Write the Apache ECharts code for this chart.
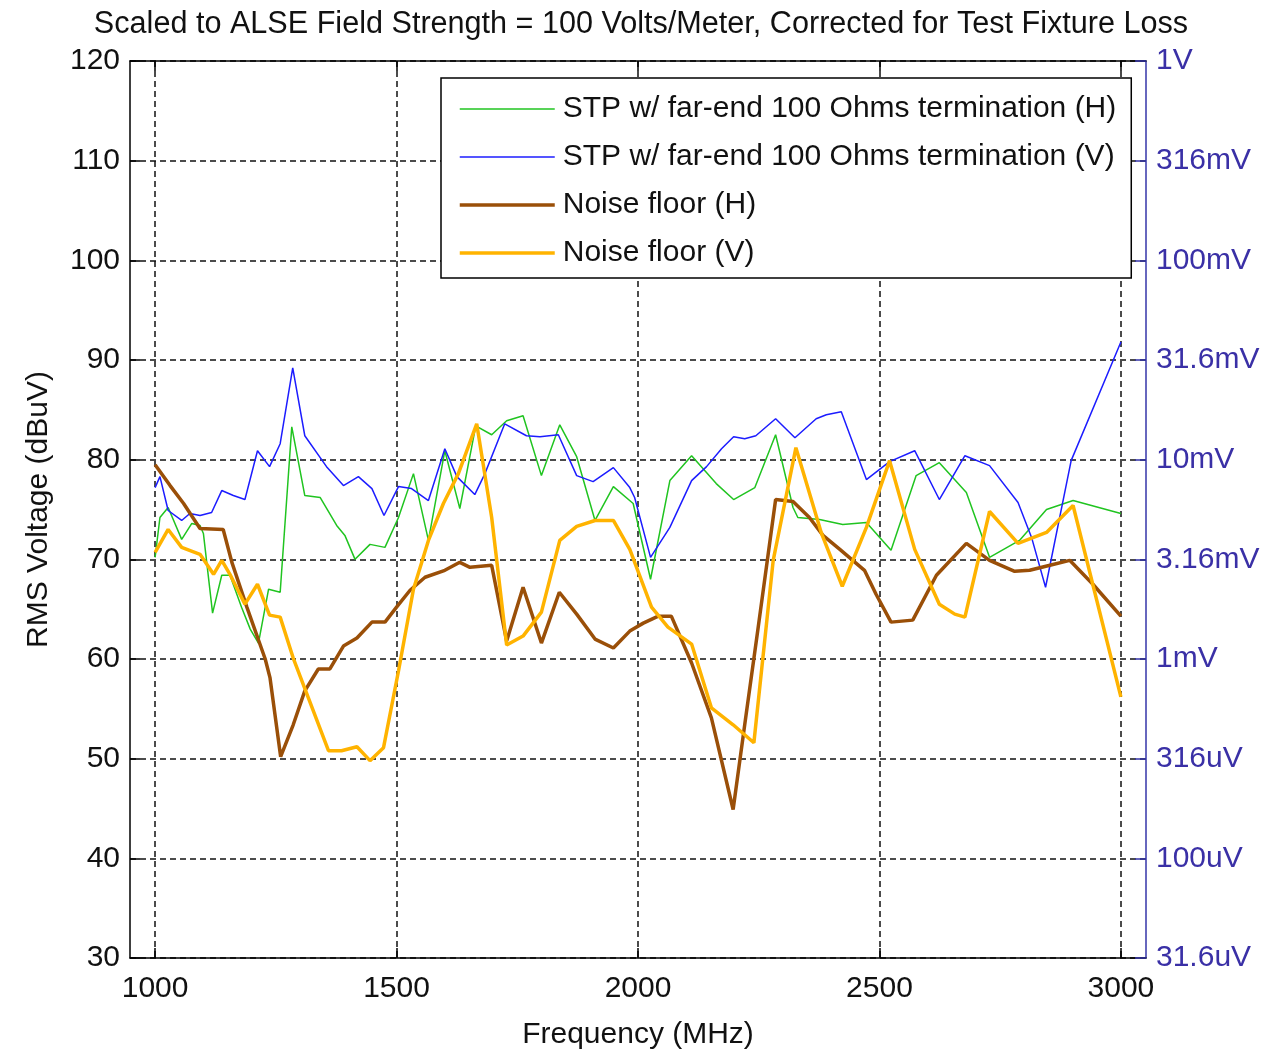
<!DOCTYPE html>
<html>
<head>
<meta charset="utf-8">
<title>Scaled to ALSE Field Strength</title>
<script src="https://cdn.jsdelivr.net/npm/echarts@6/dist/echarts.min.js"></script>
<style>
  html, body { margin: 0; padding: 0; background: #fff; }
  #chart { width: 1281px; height: 1055px; }
</style>
</head>
<body>
<div id="chart"></div>
<script>
// frequency ticks and right-hand voltage labels
const freqTicks = [1000, 1500, 2000, 2500, 3000];
const voltLabels = ['31.6uV', '100uV', '316uV', '1mV', '3.16mV', '10mV', '31.6mV', '100mV', '316mV', '1V'];

// [MHz, dBuV]
const stpH = [
  [1000,70.2],[1010,74.2],[1027,75.2],[1055,72.0],[1076,73.6],[1093,73.4],[1100,72.6],[1119,64.6],
  [1138,68.4],[1155,68.4],[1179,65.2],[1197,63.0],[1214,61.6],[1235,67.0],[1259,66.7],[1283,83.3],
  [1310,76.4],[1342,76.2],[1376,73.4],[1393,72.4],[1414,70.0],[1445,71.5],[1476,71.2],[1504,74.2],
  [1535,78.6],[1566,71.9],[1600,80.9],[1631,75.1],[1664,83.4],[1697,82.5],[1728,83.9],[1762,84.4],
  [1800,78.4],[1838,83.5],[1873,80.3],[1911,73.9],[1949,77.3],[1990,75.6],[2026,68.0],[2066,77.9],
  [2111,80.4],[2162,77.6],[2198,76.0],[2242,77.2],[2285,82.5],[2321,75.2],[2331,74.2],[2376,74.0],
  [2424,73.5],[2473,73.7],[2524,70.9],[2576,78.4],[2624,79.7],[2680,76.7],[2728,70.2],[2790,71.9],
  [2846,75.0],[2901,75.9],[3000,74.6]
];
const stpV = [
  [1000,77.2],[1010,78.3],[1027,74.9],[1055,73.9],[1072,74.6],[1093,74.4],[1117,74.7],[1138,76.9],
  [1162,76.4],[1186,76.0],[1212,80.9],[1237,79.3],[1259,81.6],[1285,89.2],[1310,82.4],[1355,79.3],
  [1390,77.4],[1421,78.3],[1449,77.1],[1474,74.4],[1504,77.3],[1531,77.1],[1566,75.9],[1600,81.1],
  [1625,78.3],[1662,76.5],[1683,78.6],[1724,83.6],[1769,82.4],[1797,82.3],[1835,82.5],[1873,78.4],
  [1907,77.8],[1949,79.2],[1983,77.2],[1993,76.2],[2026,70.2],[2066,73.2],[2111,77.9],[2142,79.3],
  [2173,81.1],[2198,82.3],[2221,82.1],[2244,82.4],[2285,84.1],[2325,82.2],[2369,84.1],[2390,84.5],
  [2421,84.8],[2473,78.0],[2521,79.8],[2573,80.9],[2624,76.0],[2677,80.4],[2728,79.4],[2787,75.7],
  [2815,72.2],[2844,67.2],[2897,79.9],[3000,91.8]
];
const noiseH = [
  [1000,79.5],[1031,77.4],[1059,75.6],[1093,73.1],[1141,73.0],[1159,69.7],[1190,65.2],[1228,60.0],
  [1238,58.1],[1260,50.2],[1286,53.4],[1310,56.8],[1338,59.0],[1362,59.0],[1390,61.3],[1418,62.1],
  [1449,63.7],[1476,63.7],[1500,65.2],[1528,66.9],[1559,68.2],[1600,68.9],[1631,69.7],[1652,69.2],
  [1697,69.4],[1728,61.8],[1762,67.2],[1800,61.6],[1837,66.7],[1873,64.5],[1911,62.0],[1949,61.1],
  [1983,62.8],[2011,63.6],[2042,64.3],[2069,64.3],[2111,59.6],[2152,54.1],[2197,44.9],[2221,53.4],
  [2249,63.2],[2285,76.0],[2321,75.8],[2355,74.2],[2383,72.4],[2418,71.0],[2469,68.9],[2493,66.5],
  [2524,63.7],[2569,63.9],[2618,68.4],[2680,71.6],[2728,69.9],[2780,68.8],[2811,68.9],[2853,69.4],
  [2894,69.9],[2942,67.5],[3000,64.3]
];
const noiseV = [
  [1000,70.7],[1027,73.0],[1055,71.2],[1093,70.5],[1121,68.5],[1138,69.9],[1155,68.5],[1186,65.5],
  [1212,67.5],[1237,64.4],[1259,64.2],[1286,60.1],[1359,50.8],[1386,50.8],[1418,51.2],[1445,49.8],
  [1473,51.1],[1504,58.8],[1535,67.0],[1566,71.9],[1597,75.6],[1628,78.6],[1666,83.6],[1697,74.2],
  [1728,61.4],[1762,62.3],[1800,64.7],[1838,71.9],[1873,73.3],[1911,73.9],[1949,73.9],[1983,71.0],
  [2028,65.2],[2062,63.2],[2111,61.5],[2152,55.1],[2197,53.4],[2240,51.6],[2280,69.9],[2327,81.2],
  [2380,72.6],[2423,67.3],[2473,73.2],[2521,79.9],[2573,71.0],[2624,65.5],[2656,64.5],[2677,64.2],
  [2728,74.8],[2787,71.6],[2846,72.7],[2901,75.4],[3000,56.2]
];

const font = 'Liberation Sans, Arial, sans-serif';
const dash = [6, 4];

const chart = echarts.init(document.getElementById('chart'));

const lineSeries = (name, data, color, width) => ({
  name: name,
  type: 'line',
  data: data,
  symbol: 'none',
  showSymbol: false,
  lineStyle: { color: color, width: width },
  itemStyle: { color: color },
  animation: false
});

chart.setOption({
  backgroundColor: '#fff',
  textStyle: { fontFamily: font },
  title: {
    text: 'Scaled to ALSE Field Strength = 100 Volts/Meter, Corrected for Test Fixture Loss',
    left: 636,
    textAlign: 'center',
    top: 4,
    textStyle: { fontSize: 30.6, fontWeight: 'normal', color: '#111', fontFamily: font }
  },
  legend: {
    orient: 'vertical',
    left: 441,
    top: 78,
    padding: [14, 15, 8, 17],
    itemGap: 14,
    itemWidth: 95,
    itemHeight: 14,
    backgroundColor: '#fff',
    borderColor: '#000',
    borderWidth: 1.5,
    itemStyle: { opacity: 0 },
    textStyle: { fontSize: 30, color: '#111', lineHeight: 34, fontFamily: font, padding: [0, 0, 0, 3] },
    data: [
      { name: 'STP w/ far-end 100 Ohms termination (H)', lineStyle: { width: 1.5 } },
      { name: 'STP w/ far-end 100 Ohms termination (V)', lineStyle: { width: 1.5 } },
      { name: 'Noise floor (H)', lineStyle: { width: 3.5 } },
      { name: 'Noise floor (V)', lineStyle: { width: 3.5 } }
    ]
  },
  grid: { left: 130, right: 135, top: 61, bottom: 97 },
  xAxis: [
    {
      type: 'value',
      min: 948,
      max: 3052,
      name: 'Frequency (MHz)',
      nameLocation: 'middle',
      nameGap: 62,
      nameTextStyle: { fontSize: 30, color: '#111', fontFamily: font },
      axisLine: { lineStyle: { color: '#000', width: 1.5 } },
      axisTick: { inside: true, length: 10, customValues: freqTicks, lineStyle: { color: '#000', width: 1.5 } },
      axisLabel: {
        customValues: freqTicks,
        fontSize: 30,
        color: '#111',
        margin: 16,
        fontFamily: font,
        formatter: (v) => String(v)
      },
      splitLine: { show: true, lineStyle: { color: '#111', type: dash, width: 1.5 } }
    },
    {
      type: 'value',
      position: 'top',
      min: 948,
      max: 3052,
      axisLine: { lineStyle: { color: '#000', width: 1.5 } },
      axisTick: { inside: true, length: 10, customValues: freqTicks, lineStyle: { color: '#000', width: 1.5 } },
      axisLabel: { show: false },
      splitLine: { show: false }
    }
  ],
  yAxis: [
    {
      type: 'value',
      min: 30,
      max: 120,
      interval: 10,
      name: 'RMS Voltage (dBuV)',
      nameLocation: 'middle',
      nameGap: 76,
      nameTextStyle: { fontSize: 30, color: '#111', fontFamily: font },
      axisLine: { show: true, lineStyle: { color: '#000', width: 1.5 } },
      axisTick: { show: true, inside: true, length: 10, lineStyle: { color: '#000', width: 1.5 } },
      axisLabel: { fontSize: 30, color: '#111', margin: 10, fontFamily: font },
      splitLine: { show: true, lineStyle: { color: '#111', type: dash, width: 1.5 } }
    },
    {
      type: 'value',
      position: 'right',
      min: 30,
      max: 120,
      interval: 10,
      axisLine: { show: true, lineStyle: { color: '#3434a8', width: 1.5 } },
      axisTick: { show: true, inside: true, length: 11, lineStyle: { color: '#3434a8', width: 1.5 } },
      axisLabel: {
        fontSize: 30,
        color: '#3a30a6',
        margin: 10,
        fontFamily: font,
        formatter: (v) => voltLabels[Math.round((v - 30) / 10)]
      },
      splitLine: { show: false }
    }
  ],
  series: [
    lineSeries('STP w/ far-end 100 Ohms termination (H)', stpH, '#20c420', 1.5),
    lineSeries('STP w/ far-end 100 Ohms termination (V)', stpV, '#1c1cff', 1.5),
    lineSeries('Noise floor (H)', noiseH, '#9a4f08', 3.5),
    lineSeries('Noise floor (V)', noiseV, '#ffb300', 3.5)
  ]
});
</script>
</body>
</html>
